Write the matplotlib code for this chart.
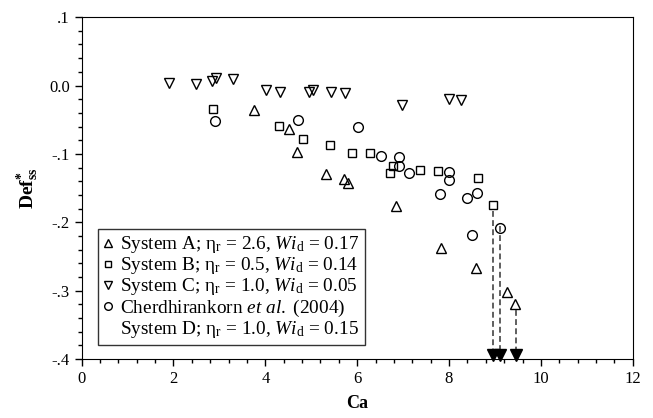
import matplotlib
matplotlib.use("Agg")
import matplotlib.pyplot as plt
from matplotlib.lines import Line2D
from matplotlib.ticker import MultipleLocator, FixedFormatter, FixedLocator

plt.rcParams['font.family'] = ['Liberation Serif', 'DejaVu Serif']
plt.rcParams['mathtext.fontset'] = 'custom'
plt.rcParams['mathtext.rm'] = 'Liberation Serif'
plt.rcParams['mathtext.it'] = 'Liberation Serif:italic'
plt.rcParams['mathtext.bf'] = 'Liberation Serif:bold'

# System A (triangles up)
sysA_ca = [3.75, 4.51, 4.69, 5.33, 5.72, 5.79, 6.84, 7.83, 8.59, 9.26, 9.43]
sysA_def = [-0.036, -0.063, -0.097, -0.129, -0.137, -0.143, -0.176, -0.237, -0.267, -0.302, -0.319]

# System B (squares)
sysB_ca = [2.86, 4.29, 4.82, 5.41, 5.88, 6.27, 6.72, 6.79, 7.36, 7.75, 8.62, 8.95]
sysB_def = [-0.035, -0.059, -0.078, -0.087, -0.099, -0.098, -0.128, -0.118, -0.124, -0.125, -0.135, -0.175]

# System C (triangles down)
sysC_ca = [1.91, 2.48, 2.84, 2.93, 3.29, 4.01, 4.33, 4.96, 5.04, 5.43, 5.73, 6.97, 7.99, 8.26]
sysC_def = [0.004, 0.002, 0.006, 0.011, 0.010, -0.007, -0.009, -0.009, -0.006, -0.009, -0.011, -0.029, -0.019, -0.021]

# Cherdhirankorn et al. (2004), System D (circles)
sysD_ca = [2.91, 4.71, 6.01, 6.51, 6.91, 6.91, 7.12, 7.80, 8.00, 8.00, 8.40, 8.50, 8.60, 9.11]
sysD_def = [-0.052, -0.051, -0.060, -0.103, -0.104, -0.117, -0.128, -0.159, -0.126, -0.138, -0.164, -0.218, -0.157, -0.209]

# breakup arrows (drop breaks up, Def -> off scale)
arrow_ca = [8.95, 9.12, 9.45]
arrow_start = [-0.183, -0.205, -0.328]

fig = plt.figure(figsize=(6.53, 4.18), dpi=100)
ax = fig.add_axes([0.125, 0.141, 0.844, 0.818])

mk = dict(linestyle='none', markerfacecolor='none', markeredgecolor='black',
          markeredgewidth=1.0, markersize=6.5)
ax.plot(sysA_ca, sysA_def, marker='^', **mk)
ax.plot(sysB_ca, sysB_def, marker='s', **dict(mk, markersize=6))
ax.plot(sysC_ca, sysC_def, marker='v', **mk)
ax.plot(sysD_ca, sysD_def, marker='o', **dict(mk, markersize=7))

for x, y0 in zip(arrow_ca, arrow_start):
    ax.plot([x, x], [y0, -0.392], color='#444444', linestyle=(0, (3.5, 2)), linewidth=1.2)
    ax.plot([x], [-0.3935], marker='v', color='black', markersize=8.5, clip_on=False)

ax.set_xlim(0, 12)
ax.set_ylim(-0.4, 0.1)
ax.xaxis.set_major_locator(MultipleLocator(2))
ax.xaxis.set_minor_locator(MultipleLocator(0.4))
yt = [-0.4, -0.3, -0.2, -0.1, 0.0, 0.1]
ax.yaxis.set_major_locator(FixedLocator(yt))
ax.yaxis.set_major_formatter(FixedFormatter(['-.4', '-.3', '-.2', '-.1', '0.0', '.1']))
ax.yaxis.set_minor_locator(MultipleLocator(0.02))
ax.tick_params(which='both', direction='out', top=False, right=False, labelsize=12)
ax.tick_params(which='major', length=5, width=1)
ax.tick_params(which='minor', length=3, width=1)

ax.set_xlabel('Ca', fontsize=13, fontweight='bold', labelpad=6)
ax.set_ylabel(r'$\mathbf{Def}^{\mathbf{*}}_{\mathbf{ss}}$', fontsize=14, labelpad=6)

handles = [
    Line2D([], [], marker='^', **dict(mk, markersize=5.5)),
    Line2D([], [], marker='s', **dict(mk, markersize=5)),
    Line2D([], [], marker='v', **dict(mk, markersize=5.5)),
    Line2D([], [], marker='o', **dict(mk, markersize=5.5)),
    Line2D([], [], linestyle='none'),
]
labels = [
    r'System A; η$_\mathrm{r}$ = 2.6, $Wi_\mathrm{d}$ = 0.17',
    r'System B; η$_\mathrm{r}$ = 0.5, $Wi_\mathrm{d}$ = 0.14',
    r'System C; η$_\mathrm{r}$ = 1.0, $Wi_\mathrm{d}$ = 0.05',
    r'Cherdhirankorn $et$ $al.$ (2004)',
    r'System D; η$_\mathrm{r}$ = 1.0, $Wi_\mathrm{d}$ = 0.15',
]
leg = ax.legend(handles, labels, loc='lower left', bbox_to_anchor=(0.029, 0.04),
                fontsize=13.9, frameon=True, fancybox=False, edgecolor='black',
                handlelength=0.5, handletextpad=0.35, labelspacing=0.0,
                borderpad=0.3, borderaxespad=0)
leg.get_frame().set_linewidth(1.0)

fig.savefig('out.png', dpi=100)
